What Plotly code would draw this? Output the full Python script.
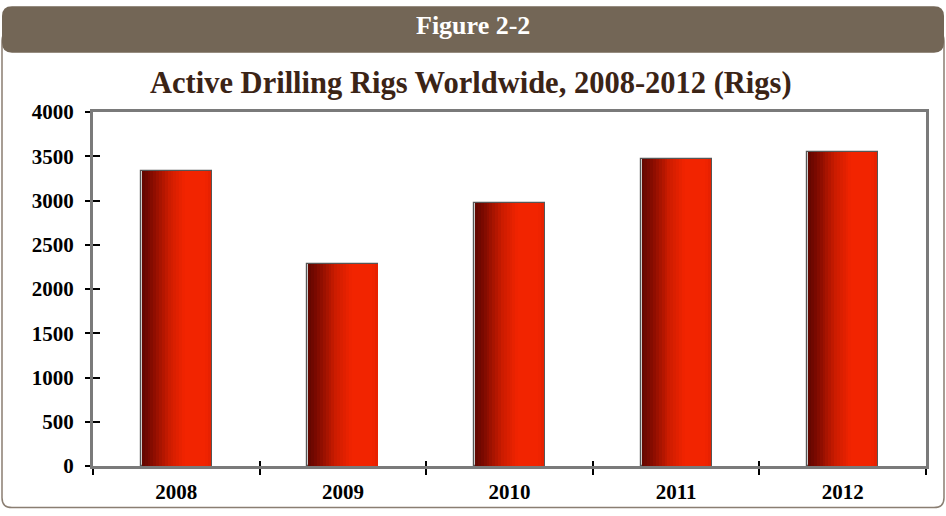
import plotly.graph_objects as go

# ---- data ----
years = ["2008", "2009", "2010", "2011", "2012"]
rigs = [3337, 2282, 2974, 3473, 3547]
y_ticks = [0, 500, 1000, 1500, 2000, 2500, 3000, 3500, 4000]
header_text = "Figure 2-2"
title_text = "Active Drilling Rigs Worldwide, 2008-2012 (Rigs)"

# ---- layout geometry (pixels) ----
W, H = 946, 516
L, R, T, B = 93, 20, 112, 46
PW, PH = W - L - R, H - T - B
SERIF = "Liberation Serif, Times New Roman, serif"

def px(x):
    return (x - L) / PW

def py(y):
    return (H - B - y) / PH

def rounded_path(x0, y0, x1, y1, r, top=True, bottom=True):
    rt = r if top else 0
    rb = r if bottom else 0
    pts = []
    pts.append(f"M {px(x0 + rt)},{py(y0)}")
    pts.append(f"L {px(x1 - rt)},{py(y0)}")
    if rt:
        pts.append(f"Q {px(x1)},{py(y0)} {px(x1)},{py(y0 + rt)}")
    pts.append(f"L {px(x1)},{py(y1 - rb)}")
    if rb:
        pts.append(f"Q {px(x1)},{py(y1)} {px(x1 - rb)},{py(y1)}")
    pts.append(f"L {px(x0 + rb)},{py(y1)}")
    if rb:
        pts.append(f"Q {px(x0)},{py(y1)} {px(x0)},{py(y1 - rb)}")
    pts.append(f"L {px(x0)},{py(y0 + rt)}")
    if rt:
        pts.append(f"Q {px(x0)},{py(y0)} {px(x0 + rt)},{py(y0)}")
    pts.append("Z")
    return " ".join(pts)

fig = go.Figure()

# shadow / outline bar behind
BAR_W = 0.414
fig.add_trace(go.Bar(
    x=years, y=rigs, width=BAR_W + 0.012,
    marker=dict(color="rgba(170,170,170,0.6)", line=dict(color="rgba(70,70,70,0.9)", width=1.2)),
    hoverinfo="skip", showlegend=False,
))

# gradient slices
stops = [(0.0, (96, 6, 0)), (0.12, (125, 10, 0)), (0.40, (205, 28, 0)),
         (0.62, (242, 36, 0)), (0.92, (242, 36, 0)), (1.0, (228, 32, 0))]

def grad(t):
    for (t0, c0), (t1, c1) in zip(stops[:-1], stops[1:]):
        if t0 <= t <= t1:
            f = (t - t0) / (t1 - t0) if t1 > t0 else 0
            return "rgb(%d,%d,%d)" % tuple(round(a + (b - a) * f) for a, b in zip(c0, c1))
    return "rgb(%d,%d,%d)" % stops[-1][1]

N = 24
sw = BAR_W / N
for i in range(N):
    t = (i + 0.5) / N
    fig.add_trace(go.Bar(
        x=years, y=rigs, width=sw * 1.08, offset=-BAR_W / 2 + i * sw,
        marker=dict(color=grad(t), line=dict(width=0)),
        hovertemplate="%{x}: %{y}<extra></extra>" if i == N // 2 else None,
        hoverinfo=None if i == N // 2 else "skip",
        showlegend=False,
    ))

fig.update_layout(
    width=W, height=H, autosize=False,
    margin=dict(l=L, r=R, t=T, b=B, pad=0),
    paper_bgcolor="white", plot_bgcolor="white",
    barmode="overlay", bargap=0,
    showlegend=False,
    font=dict(family=SERIF, color="black"),
    xaxis=dict(
        type="category", categoryorder="array", categoryarray=years,
        range=[-0.5, len(years) - 0.5],
        showgrid=False, zeroline=False,
        showline=True, linecolor="#7a7a7a", linewidth=3, mirror=True,
        ticks="outside", tickson="boundaries", ticklen=6, tickwidth=2, tickcolor="black",
        tickfont=dict(family=SERIF, size=21, color="black", weight="bold"),
        ticklabelstandoff=5,
    ),
    yaxis=dict(
        range=[0, 4000], tickvals=y_ticks,
        showgrid=False, zeroline=False,
        showline=True, linecolor="#7a7a7a", linewidth=3, mirror=True,
        ticks="outside", ticklen=5, tickwidth=2, tickcolor="black",
        tickfont=dict(family=SERIF, size=21, color="black", weight="bold"),
        ticklabelstandoff=7,
    ),
    xaxis2=dict(
        overlaying="x", range=[-0.5, len(years) - 0.5],
        tickvals=[i - 0.5 for i in range(len(years) + 1)],
        showticklabels=False, showgrid=False, zeroline=False, showline=False,
        ticks="inside", ticklen=5, tickwidth=2, tickcolor="black",
    ),
    yaxis2=dict(
        overlaying="y", range=[0, 4000], tickvals=y_ticks,
        showticklabels=False, showgrid=False, zeroline=False, showline=False,
        ticks="inside", ticklen=7, tickwidth=2, tickcolor="black",
    ),
)

# invisible trace so the overlay axes are drawn
fig.add_trace(go.Scatter(x=[0], y=[0], xaxis="x2", yaxis="y2", mode="markers",
                         marker=dict(opacity=0), hoverinfo="skip", showlegend=False))

shapes = [
    # outer bordered box
    dict(type="path", xref="paper", yref="paper",
         path=rounded_path(2, 30, 944, 512, 10),
         line=dict(color="#8a7e72", width=1.5), fillcolor="white", layer="below"),
    # header band
    dict(type="path", xref="paper", yref="paper",
         path=rounded_path(2, 5, 944, 52, 10),
         line=dict(width=0), fillcolor="#736656", layer="below"),
]
fig.update_layout(shapes=shapes)

fig.add_annotation(text=header_text, xref="paper", yref="paper",
                   x=px(473), y=py(25), xanchor="center", yanchor="middle",
                   showarrow=False,
                   font=dict(family=SERIF, size=26, color="white", weight="bold"))
fig.add_annotation(text=title_text, xref="paper", yref="paper",
                   x=px(471), y=py(83), xanchor="center", yanchor="middle",
                   showarrow=False,
                   font=dict(family=SERIF, size=30.5, color="#3b2416", weight="bold"))

fig.write_html("out.html", config={"displayModeBar": False},
               post_script="document.body.style.margin='0';")
